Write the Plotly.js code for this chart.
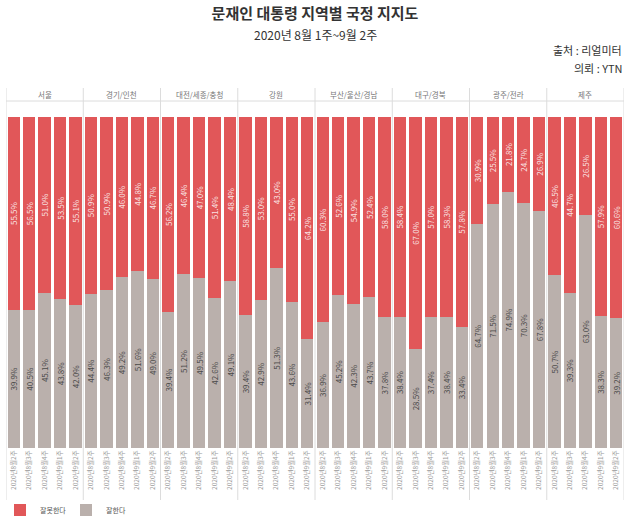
<!DOCTYPE html>
<html>
<head>
<meta charset="utf-8">
<script src="https://cdn.plot.ly/plotly-3.0.1.min.js"></script>
<style>html,body{margin:0;padding:0;background:#fff;}#chart{width:630px;height:521px;}</style>
</head>
<body>
<div id="chart"></div>
<script>
const regions = ["서울", "경기/인천", "대전/세종/충청", "강원", "부산/울산/경남", "대구/경북", "광주/전라", "제주"];
const weeks = ["2020년8월2주", "2020년8월3주", "2020년8월4주", "2020년9월1주", "2020년9월2주"];
// 잘한다 (approve) per region, per week
const good = [
  [39.9, 40.5, 45.1, 43.8, 42.0],
  [44.4, 46.3, 49.2, 51.6, 49.0],
  [39.4, 51.2, 49.5, 42.6, 49.1],
  [39.4, 42.9, 51.3, 43.6, 31.4],
  [36.9, 45.2, 42.3, 43.7, 37.8],
  [38.4, 28.5, 37.4, 38.4, 33.4],
  [64.7, 71.5, 74.9, 70.3, 67.8],
  [50.7, 39.3, 63.0, 38.3, 39.2]
];
// 잘못한다 (disapprove) per region, per week
const bad = [
  [55.5, 56.5, 51.0, 53.5, 55.1],
  [50.9, 50.9, 46.0, 44.8, 46.7],
  [56.2, 46.4, 47.0, 51.4, 48.4],
  [58.8, 53.0, 43.0, 55.0, 64.2],
  [60.3, 52.6, 54.9, 52.4, 58.0],
  [58.4, 67.0, 57.0, 58.3, 57.8],
  [30.9, 25.5, 21.8, 24.7, 26.9],
  [46.5, 44.7, 26.5, 57.9, 60.6]
];

const xs = [], goodV = [], badV = [], tickText = [];
regions.forEach((r, i) => {
  weeks.forEach((w, j) => {
    xs.push(i * weeks.length + j);
    goodV.push(good[i][j]);
    badV.push(bad[i][j]);
    tickText.push(w);
  });
});

const FONT = "'Noto Sans CJK KR', 'Noto Sans', sans-serif";
const RED = "#E15759", GREY = "#BAB0AC";

const traces = [
  {
    type: "bar", name: "잘한다", x: xs, y: goodV,
    marker: {color: GREY},
    text: goodV.map(v => v.toFixed(1) + "%"),
    textposition: "inside", insidetextanchor: "middle", textangle: -90, constraintext: "none",
    insidetextfont: {size: 8, color: "#4a4a4a", family: FONT},
    hoverinfo: "skip"
  },
  {
    type: "bar", name: "잘못한다", x: xs, y: badV,
    marker: {color: RED},
    text: badV.map(v => v.toFixed(1) + "%"),
    textposition: "inside", insidetextanchor: "middle", textangle: -90, constraintext: "none",
    insidetextfont: {size: 8, color: "rgba(255,255,255,0.85)", family: FONT},
    hoverinfo: "skip"
  }
];

const plotTop = 117, plotBot = 448, plotH = plotBot - plotTop;
const py = px => 1 + (plotTop - px) / plotH; // pixel y -> paper y

const shapes = [];
for (let i = 0; i <= regions.length; i++) {
  shapes.push({type: "line", xref: "x", yref: "paper",
    x0: i * weeks.length - 0.5, x1: i * weeks.length - 0.5,
    y0: py(500), y1: py(88), line: {color: "#dcdcdc", width: 1}});
}
shapes.push({type: "line", xref: "paper", yref: "paper", x0: 0, x1: 1,
  y0: py(101), y1: py(101), line: {color: "#dcdcdc", width: 1}});

const annotations = regions.map((r, i) => ({
  xref: "x", yref: "paper", x: i * weeks.length + (weeks.length - 1) / 2, y: py(95),
  text: r, showarrow: false, font: {size: 7.5, color: "#777", family: FONT},
  xanchor: "center", yanchor: "middle"
}));
annotations.push({xref: "paper", yref: "paper", x: 0.5, y: py(34), text: "2020년 8월 1주~9월 2주",
  showarrow: false, font: {size: 12, color: "#333", family: FONT}, xanchor: "center", yanchor: "middle"});
annotations.push({xref: "paper", yref: "paper", x: 1, y: py(50), text: "출처 : 리얼미터",
  showarrow: false, font: {size: 11, color: "#333", family: FONT}, xanchor: "right", yanchor: "middle"});
annotations.push({xref: "paper", yref: "paper", x: 1, y: py(68), text: "의뢰 : YTN",
  showarrow: false, font: {size: 11, color: "#333", family: FONT}, xanchor: "right", yanchor: "middle"});

const layout = {
  width: 630, height: 521,
  margin: {l: 6, r: 6, t: plotTop, b: 521 - plotBot},
  paper_bgcolor: "#fff", plot_bgcolor: "#fff",
  barmode: "stack", barnorm: "percent", bargap: 0.2,
  font: {family: FONT},
  title: {text: "<b>문재인 대통령 지역별 국정 지지도</b>", x: 0.5, xanchor: "center",
    yref: "container", y: 1 - 14 / 521, yanchor: "middle",
    font: {size: 15, color: "#333", family: FONT}},
  xaxis: {range: [-0.5, xs.length - 0.5], tickmode: "array", tickvals: xs, ticktext: tickText,
    tickangle: -90, tickfont: {size: 6.5, color: "#999", family: FONT}, automargin: false,
    showgrid: false, zeroline: false, showline: false, ticks: "", fixedrange: true},
  yaxis: {range: [0, 100], visible: false, showgrid: false, zeroline: false, fixedrange: true, automargin: false},
  showlegend: true,
  legend: {orientation: "h", xref: "container", x: 0, xanchor: "left",
    yref: "container", y: 1 - 510 / 521, yanchor: "middle",
    traceorder: "reversed", font: {size: 7, color: "#555", family: FONT},
    itemwidth: 30, entrywidth: 21, entrywidthmode: "pixels", bgcolor: "rgba(0,0,0,0)"},
  shapes: shapes,
  annotations: annotations
};

Plotly.newPlot("chart", traces, layout, {displayModeBar: false, staticPlot: true});
</script>
</body>
</html>
